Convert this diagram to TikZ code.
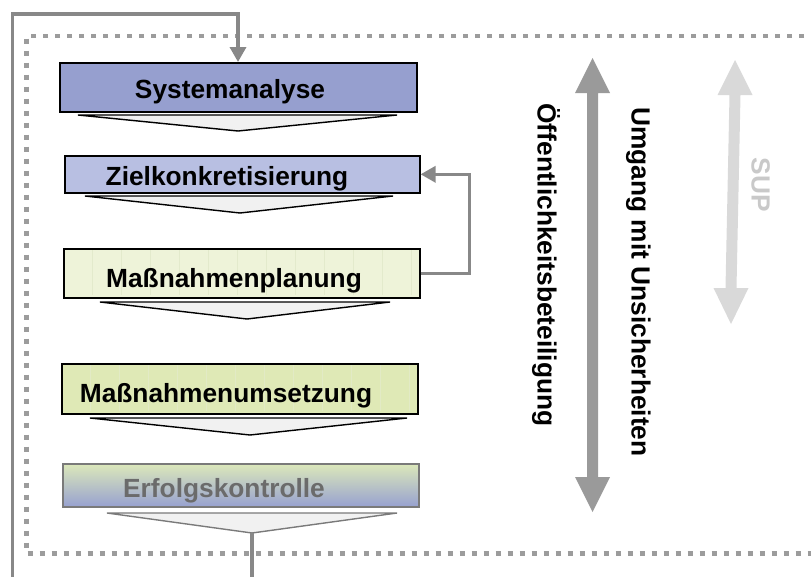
\documentclass[tikz,border=0pt]{standalone}
\usepackage{fontspec}
\setmainfont{Liberation Sans}
\usetikzlibrary{arrows.meta}

\definecolor{sysblue}{HTML}{969FCF}
\definecolor{zielblue}{HTML}{B8BFE2}
\definecolor{planbg}{HTML}{EEF3D9}
\definecolor{umsbg}{HTML}{DFE9B6}
\definecolor{erfgreen}{HTML}{DCE8BA}
\definecolor{erfblue}{HTML}{97A1D0}
\definecolor{erfborder}{HTML}{7A7A7A}
\definecolor{erftext}{HTML}{6B6B6B}
\definecolor{loopgray}{HTML}{888888}
\definecolor{dotgray}{HTML}{9C9C9C}
\definecolor{bigarrow}{HTML}{9A9A9A}
\definecolor{suparrow}{HTML}{D9D9D9}
\definecolor{suptext}{HTML}{C9C9C9}
\definecolor{funnelbg}{HTML}{F1F1F1}
\definecolor{gridline}{HTML}{E3EACC}

\tikzset{
  stage/.style={draw=black, line width=1.6pt, inner sep=0pt, anchor=north west},
  stagetext/.style={font=\fontsize{26.3}{30}\selectfont\bfseries, inner sep=0pt, anchor=base},
  funnel/.style={fill=funnelbg, draw=black, line width=1.4pt, line join=miter},
  loopline/.style={draw=loopgray, line width=3.4pt},
  looptip/.style={-{Triangle[length=15pt,width=16pt]}},
  frame/.style={draw=dotgray, line width=4.5pt, dash pattern=on 5pt off 7pt},
}

\begin{document}
\begin{tikzpicture}[x=1pt, y=-1pt]
\useasboundingbox (0,0) rectangle (811,576);
\clip (0,0) rectangle (811,576);

% dotted frame (its right side lies beyond the page)
\draw[frame] (840,36) -- (26.5,36) -- (26.5,553.5) -- (840,553.5);

% process stages
\node[stage, fill=sysblue, minimum width=357pt, minimum height=49pt] (sys) at (59,62) {};
\node[stage, fill=zielblue, minimum width=355pt, minimum height=37pt] (ziel) at (64,155) {};
\node[stage, fill=planbg, minimum width=356pt, minimum height=49pt] (plan) at (63,248) {};
\node[stage, fill=umsbg, minimum width=356pt, minimum height=50pt] (ums) at (61,363) {};
\node[stage, draw=erfborder, top color=erfgreen, middle color=erfgreen!80!erfblue,
      bottom color=erfblue, minimum width=356pt, minimum height=43pt] (erf) at (62,463) {};

% faint texture lines in the green boxes
\foreach \gx in {92,121,150,179,208,237,266,295,324,353,382,411} {
  \draw[gridline, line width=0.5pt] (\gx,250) -- (\gx,295);
  \draw[gridline!70!umsbg, line width=0.5pt] (\gx-2,365) -- (\gx-2,411);
}

% stage labels
\node[stagetext] (tsys) at (230,98) {Systemanalyse};
\node[stagetext] (tziel) at (227,185) {Zielkonkretisierung};
\node[stagetext] (tplan) at (234,287) {Maßnahmenplanung};
\node[stagetext] (tums) at (226,402) {Maßnahmenumsetzung};
\node[stagetext, text=erftext] (terf) at (224,497) {Erfolgskontrolle};

% funnels below the stages
\path[funnel] (78,115) -- (397,115) -- (238,131) -- cycle;
\path[funnel] (85,196) -- (393,196) -- (240,213) -- cycle;
\path[funnel] (100,302) -- (390,302) -- (247,319) -- cycle;
\path[funnel] (90,418) -- (407,418) -- (250,435) -- cycle;
\path[funnel, draw=erfborder] (107,513) -- (397,513) -- (252,533) -- cycle;
\coordinate (ftip) at (252,533);
\coordinate (sysin) at (238,62);

% outer loop back to the system analysis
\draw[loopline, looptip] (ftip) -- (252,600) -| (12.7,14) -| (sysin);

% feedback from planning to goal definition
\draw[loopline, looptip] (plan.east) -- ++(49,0) |- (ziel.east);

% double arrow for the accompanying tasks
\fill[bigarrow] (592.5,58) -- (610,93) -- (598,93) -- (598,477) -- (610,477)
  -- (592.5,512) -- (575,477) -- (587,477) -- (587,93) -- (575,93) -- cycle;
\node[stagetext, rotate=-90] (toeff) at (537.5,265) {Öffentlichkeitsbeteiligung};
\node[stagetext, rotate=-90] (tumg) at (631.5,282) {Umgang mit Unsicherheiten};

% SUP double arrow
\fill[suparrow] (735,60) -- (752.5,95) -- (740.5,95) -- (736.5,288) -- (748.5,288)
  -- (731,324) -- (713.5,288) -- (725.5,288) -- (729.5,95) -- (717.5,95) -- cycle;
\node[stagetext, rotate=-90, text=suptext] (tsup) at (751.5,185) {SUP};
\end{tikzpicture}
\end{document}
